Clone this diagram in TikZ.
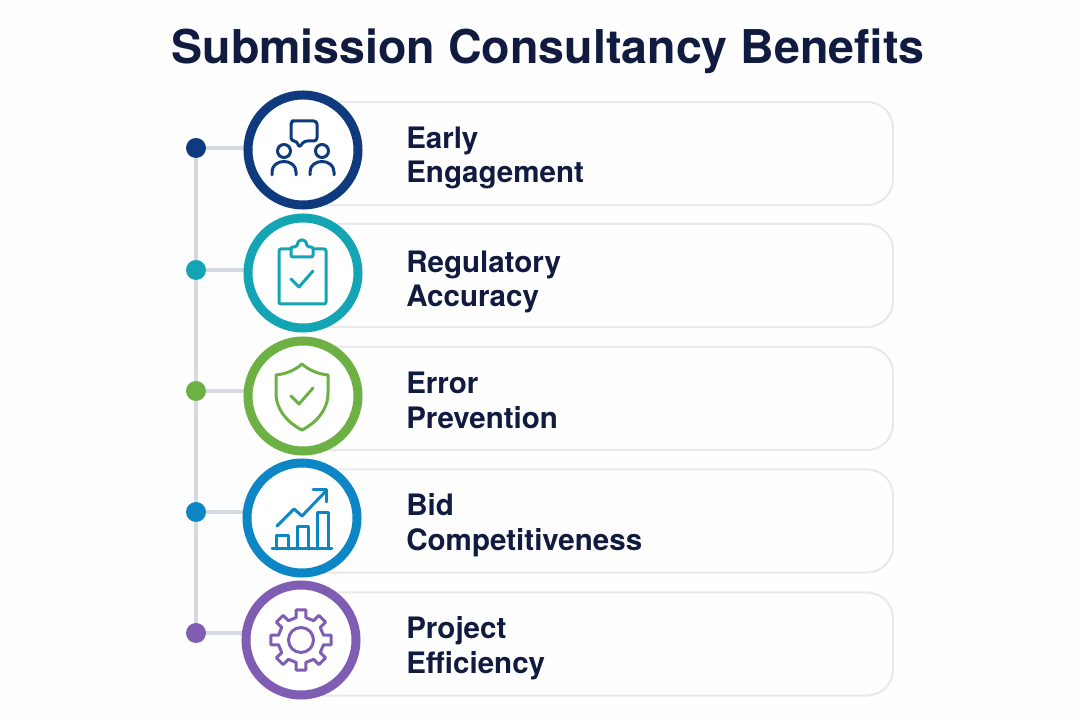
\documentclass[tikz,border=0pt]{standalone}
\usepackage{fontspec}
\setmainfont{TeX Gyre Heros}
\definecolor{inktitle}{HTML}{101B3F}
\definecolor{paper}{HTML}{FEFEFE}
\definecolor{cardline}{HTML}{E8E9EB}
\definecolor{spineline}{HTML}{D5D9E2}
\definecolor{navyc}{HTML}{0F3A7D}
\definecolor{tealc}{HTML}{14A5B5}
\definecolor{greenc}{HTML}{6DB043}
\definecolor{bluec}{HTML}{0D86C6}
\definecolor{purplec}{HTML}{7F5DB3}
\tikzset{
	card/.style={draw=cardline,line width=0.05cm,fill=paper,rounded corners=0.65cm,minimum width=14.825cm,minimum height=2.575cm,inner sep=0pt},
	ring/.style={circle,draw=#1,line width=0.225cm,fill=white,minimum size=2.75cm,inner sep=0pt},
	dot/.style={circle,fill=#1,minimum size=0.5cm,inner sep=0pt},
	spine/.style={draw=spineline,line width=0.08cm},
	icon/.style={draw=#1,line width=0.075cm,line join=round,line cap=round},
	label/.style={anchor=west,align=left,inner sep=0pt,text=inktitle,font=\fontsize{21}{24.8}\selectfont\bfseries},
}
\begin{document}
\begin{tikzpicture}[x=0.025cm,y=-0.025cm]
	\useasboundingbox (0,0) rectangle (1080,720);
	\fill[paper] (0,0) rectangle (1080,720);
	%Title
	\node [text=inktitle,font=\fontsize{33.1}{40}\selectfont\bfseries] (title) at (548,51) {Submission Consultancy Benefits};
	%Cards
	\node [card] (card1) at (596.5,153.5) {};
	\node [card] (card2) at (596.5,275.5) {};
	\node [card] (card3) at (596.5,398.5) {};
	\node [card] (card4) at (596.5,521) {};
	\node [card] (card5) at (596.5,644) {};
	%Dots on the left
	\node [dot=navyc] (dot1) at (196,148) {};
	\node [dot=tealc] (dot2) at (196,270) {};
	\node [dot=greenc] (dot3) at (196,391) {};
	\node [dot=bluec] (dot4) at (196,512) {};
	\node [dot=purplec] (dot5) at (196,633) {};
	%Rings
	\coordinate (center1) at (303,150);
	\coordinate (center2) at (303,273);
	\coordinate (center3) at (303,396);
	\coordinate (center4) at (302,518);
	\coordinate (center5) at (301,640);
	%Spine and branches
	\draw [spine] (dot1) -- (dot2);
	\draw [spine] (dot2) -- (dot3);
	\draw [spine] (dot3) -- (dot4);
	\draw [spine] (dot4) -- (dot5);
	\draw [spine] (dot1) -- (dot1 -| center1);
	\draw [spine] (dot2) -- (dot2 -| center2);
	\draw [spine] (dot3) -- (dot3 -| center3);
	\draw [spine] (dot4) -- (dot4 -| center4);
	\draw [spine] (dot5) -- (dot5 -| center5);
	\node [ring=navyc] (ring1) at (center1) {};
	\node [ring=tealc] (ring2) at (center2) {};
	\node [ring=greenc] (ring3) at (center3) {};
	\node [ring=bluec] (ring4) at (center4) {};
	\node [ring=purplec] (ring5) at (center5) {};
	%Speech bubble and two people
	\draw [icon=navyc,rounded corners=0.08cm] (295,121) -- (317,121) -- (317,141) -- (304,141) -- (299,148) -- (297,141) -- (291,141) -- (291,121) -- cycle;
	\draw [icon=navyc] (284,151) circle (6.5);
	\draw [icon=navyc] (322,151) circle (6.5);
	\draw [icon=navyc] (272,175) -- (272,172) .. controls (272,158) and (296,158) .. (296,172) -- (296,175);
	\draw [icon=navyc] (310,175) -- (310,172) .. controls (310,158) and (334,158) .. (334,172) -- (334,175);
	%Clipboard
	\draw [icon=tealc,rounded corners=0.05cm] (291,249) -- (279,249) -- (279,304) -- (326,304) -- (326,249) -- (313,249);
	\draw [icon=tealc,rounded corners=0.05cm] (291,257) -- (291,247) -- (297,247) .. controls (298,238) and (306,238) .. (307,247) -- (313,247) -- (313,257) -- cycle;
	\draw [icon=tealc] (291,279) -- (299,287) -- (313,271);
	%Shield
	\draw [icon=greenc] (302,364) .. controls (294,371) and (285,374) .. (276,375) -- (276,393) .. controls (276,410) and (288,423) .. (302,430) .. controls (316,423) and (328,410) .. (328,393) -- (328,375) .. controls (319,374) and (310,371) .. (302,364) -- cycle;
	\draw [icon=greenc] (291,396) -- (299,404) -- (313,388);
	%Bars and arrow
	\draw [icon=bluec] (272,549) -- (332,549);
	\draw [icon=bluec] (276,549) -- (276,536) -- (288,536) -- (288,549);
	\draw [icon=bluec] (297,549) -- (297,527) -- (308,527) -- (308,549);
	\draw [icon=bluec] (317,549) -- (317,513) -- (328,513) -- (328,549);
	\draw [icon=bluec] (277,526) -- (294,509) -- (302,516) -- (326,491);
	\draw [icon=bluec] (313,490) -- (326,490) -- (326,502);
	%Gear
	\begin{scope}[shift={(center5)}]
		\draw [icon=purplec] (-12:23) \foreach \a in {0,45,...,315} {
			-- (\a-12:23) -- (\a-9:30.5) -- (\a+9:30.5) -- (\a+12:23)
		} -- cycle;
		\draw [icon=purplec] (0,0) circle (12.5);
	\end{scope}
	%Labels
	\node [label] (label1) at (406,158) {Early\\Engagement};
	\node [label] (label2) at (406,282) {Regulatory\\Accuracy};
	\node [label] (label3) at (406,400) {Error\\Prevention};
	\node [label] (label4) at (406,525) {Bid\\Competitiveness};
	\node [label] (label5) at (406,648) {Project\\Efficiency};
\end{tikzpicture}
\end{document}
